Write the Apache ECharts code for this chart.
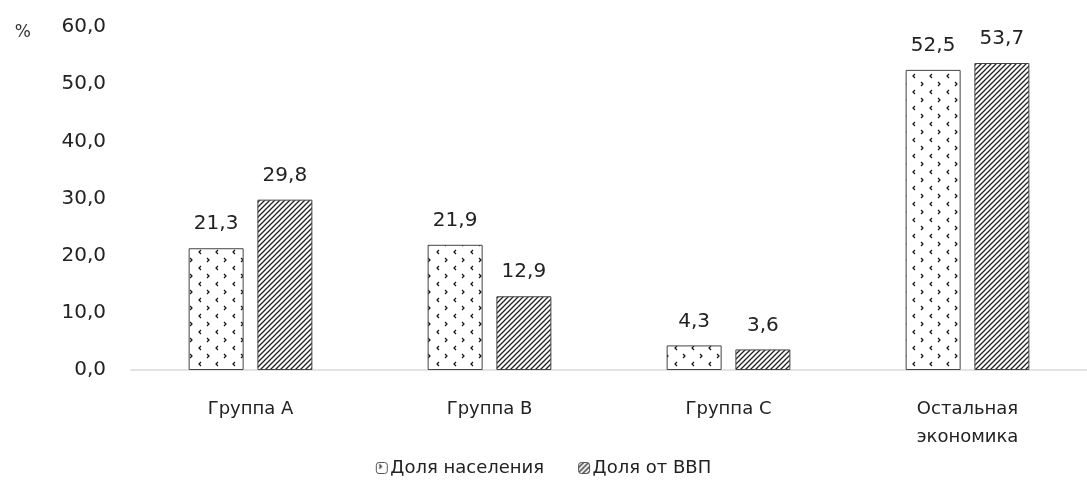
<!DOCTYPE html>
<html>
<head>
<meta charset="utf-8">
<script src="https://cdn.jsdelivr.net/npm/echarts@6/dist/echarts.min.js"></script>
<style>
  html, body { margin: 0; padding: 0; background: #fff; }
  #chart { width: 1087px; height: 484px; }
</style>
</head>
<body>
<div id="chart"></div>
<script>
var categories = ['Группа А', 'Группа В', 'Группа С', 'Остальная\nэкономика'];
var populationShare = [21.3, 21.9, 4.3, 52.5];
var gdpShare = [29.8, 12.9, 3.6, 53.7];
var seriesNames = ['Доля населения', 'Доля от ВВП'];

// dotted pattern (small chevrons)
function makeDots() {
  var c = document.createElement('canvas');
  c.width = 17; c.height = 16;
  var ctx = c.getContext('2d');
  ctx.fillStyle = '#fff';
  ctx.fillRect(0, 0, 17, 16);
  ctx.strokeStyle = '#111';
  ctx.lineWidth = 1.2;
  // ">" shape
  ctx.beginPath();
  ctx.moveTo(3, 2); ctx.lineTo(5, 4); ctx.lineTo(3, 6);
  ctx.stroke();
  // "<" shape
  ctx.beginPath();
  ctx.moveTo(14, 10); ctx.lineTo(12, 12); ctx.lineTo(14, 14);
  ctx.stroke();
  return c;
}

// diagonal hatch pattern
function makeHatch() {
  var c = document.createElement('canvas');
  c.width = 5; c.height = 5;
  var ctx = c.getContext('2d');
  ctx.fillStyle = '#fff';
  ctx.fillRect(0, 0, 5, 5);
  ctx.strokeStyle = '#222';
  ctx.lineWidth = 1.3;
  ctx.beginPath();
  ctx.moveTo(-1, 6); ctx.lineTo(6, -1);
  ctx.moveTo(-1, 1); ctx.lineTo(1, -1);
  ctx.moveTo(4, 6); ctx.lineTo(6, 4);
  ctx.stroke();
  return c;
}

var myChart = echarts.init(document.getElementById('chart'));
var font = '"DejaVu Sans", "Liberation Sans", sans-serif';
var fmt = function (v) { return v.toFixed(1).replace('.', ','); };

var option = {
  animation: false,
  textStyle: { fontFamily: font },
  grid: { left: 131, top: 27, bottom: 114, width: 968 },
  legend: {
    bottom: 2,
    left: 'center',
    itemWidth: 11,
    itemHeight: 11,
    itemGap: 34,
    itemStyle: { borderColor: '#555', borderWidth: 1 },
    textStyle: { fontSize: 18, color: '#222', fontFamily: font, padding: [0, 0, 0, -2] },
    data: seriesNames
  },
  xAxis: {
    type: 'category',
    data: categories,
    axisLine: { lineStyle: { color: '#d9d9d9', width: 1.5 } },
    axisTick: { show: false },
    axisLabel: { fontSize: 18, color: '#222', margin: 25, lineHeight: 28, fontFamily: font }
  },
  yAxis: {
    type: 'value',
    name: '%',
    nameLocation: 'end',
    nameGap: -6,
    nameTextStyle: { fontSize: 17, color: '#333', align: 'right', padding: [0, 100, 0, 0], verticalAlign: 'middle', fontFamily: font },
    min: 0,
    max: 60,
    interval: 10,
    splitLine: { show: false },
    axisLine: { show: false },
    axisLabel: {
      fontSize: 20, color: '#222', margin: 25, fontFamily: font,
      formatter: fmt
    }
  },
  series: [
    {
      name: seriesNames[0],
      type: 'bar',
      barWidth: 55,
      barGap: '25%',
      data: populationShare,
      itemStyle: { color: { image: makeDots(), repeat: 'repeat' }, borderColor: '#444', borderWidth: 1 },
      label: {
        show: true, position: 'top', distance: 14, fontSize: 20, color: '#222', fontFamily: font,
        formatter: function (p) { return fmt(p.value); }
      }
    },
    {
      name: seriesNames[1],
      type: 'bar',
      barWidth: 55,
      data: gdpShare,
      itemStyle: { color: { image: makeHatch(), repeat: 'repeat' }, borderColor: '#444', borderWidth: 1 },
      label: {
        show: true, position: 'top', distance: 14, fontSize: 20, color: '#222', fontFamily: font,
        formatter: function (p) { return fmt(p.value); }
      }
    }
  ]
};
myChart.setOption(option);
</script>
</body>
</html>
